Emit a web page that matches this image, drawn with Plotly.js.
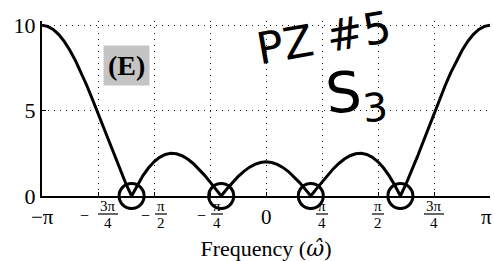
<!DOCTYPE html>
<html><head><meta charset="utf-8">
<script src="https://cdn.plot.ly/plotly-3.0.1.min.js"></script>
<style>html,body{margin:0;padding:0;background:#fff}#c{width:494px;height:261px}</style>
</head><body><div id="c"></div>
<script>
// frequency in units of pi
const freq = [-1,-0.975,-0.95,-0.925,-0.9,-0.875,-0.85,-0.825,-0.8,-0.775,-0.75,-0.725,-0.7,-0.675,-0.65,-0.625,-0.6,-0.575,-0.55,-0.525,-0.5,-0.475,-0.45,-0.425,-0.4,-0.375,-0.35,-0.325,-0.3,-0.275,-0.25,-0.225,-0.2,-0.175,-0.15,-0.125,-0.1,-0.075,-0.05,-0.025,0,0.025,0.05,0.075,0.1,0.125,0.15,0.175,0.2,0.225,0.25,0.275,0.3,0.325,0.35,0.375,0.4,0.425,0.45,0.475,0.5,0.525,0.55,0.575,0.6,0.625,0.65,0.675,0.7,0.725,0.75,0.775,0.8,0.825,0.85,0.875,0.9,0.925,0.95,0.975,1];
const magnitude = [10,9.938,9.755,9.453,9.040,8.524,7.915,7.227,6.472,5.667,4.828,3.972,3.115,2.274,1.465,0.702,0,0.630,1.178,1.637,2,2.265,2.430,2.498,2.472,2.359,2.167,1.906,1.587,1.224,0.828,0.416,0,0.405,0.787,1.133,1.432,1.675,1.853,1.963,2,1.963,1.853,1.675,1.432,1.133,0.787,0.405,0,0.416,0.828,1.224,1.587,1.906,2.167,2.359,2.472,2.498,2.430,2.265,2,1.637,1.178,0.630,0,0.702,1.465,2.274,3.115,3.972,4.828,5.667,6.472,7.227,7.915,8.524,9.040,9.453,9.755,9.938,10];
// circled zeros (units of pi)
const zeroFreq = [-0.6,-0.2,0.2,0.6];
const zeroMag = [0,0,0,0];
// x tick labels
const tickVals = [-1,-0.75,-0.5,-0.25,0,0.25,0.5,0.75,1];
const tickSign = ['−','−','−','−','','','','',''];
const tickNum = ['π','3π','π','π','0','π','π','3π','π'];
const tickDen = ['','4','2','4','','4','2','4',''];
const yTicks = [0,5,10];

const serif = 'Liberation Serif, Times New Roman, serif';
const black = '#000';
const annotations = [];
const shapes = [];
tickVals.forEach((v,i)=>{
  if(tickDen[i]===''){
    const edge = v===1 ? -4 : 0;
    annotations.push({x:v,y:0,xref:'x',yref:'y',text:tickSign[i]+tickNum[i],showarrow:false,
      xanchor:'center',yanchor:'middle',yshift:-21,xshift:edge,font:{family:serif,size:21,color:black}});
  } else {
    const wide = tickNum[i].length>1;
    const fs = tickSign[i] ? (wide?10:7) : 0;
    const barW = wide?20:12;
    annotations.push({x:v,y:0,xref:'x',yref:'y',text:tickNum[i],showarrow:false,borderpad:0,
      xanchor:'center',yanchor:'middle',yshift:-10,xshift:fs,font:{family:serif,size:15,color:black}});
    annotations.push({x:v,y:0,xref:'x',yref:'y',text:tickDen[i],showarrow:false,borderpad:0,
      xanchor:'center',yanchor:'middle',yshift:-27,xshift:fs,font:{family:serif,size:15,color:black}});
    shapes.push({type:'line',xref:'x',xsizemode:'pixel',xanchor:v,x0:fs-barW/2,x1:fs+barW/2,
      yref:'paper',ysizemode:'pixel',yanchor:0,y0:-18,y1:-18,line:{color:black,width:1.2}});
    if(tickSign[i]){
      annotations.push({x:v,y:0,xref:'x',yref:'y',text:tickSign[i],showarrow:false,borderpad:0,
        xanchor:'center',yanchor:'middle',yshift:-19,xshift:wide?-14:-9,font:{family:serif,size:16,color:black}});
    }
  }
});
annotations.push({x:-0.625,y:7.65,xref:'x',yref:'y',text:'<b>(E)</b>',showarrow:false,
  bgcolor:'#c4c4c4',borderpad:4,font:{family:serif,size:28,color:black}});
annotations.push({x:0.26,y:9.3,xref:'x',yref:'y',text:'PZ #5',showarrow:false,textangle:-10,
  font:{family:'DejaVu Sans',size:44,color:black}});
annotations.push({x:0.40,y:5.9,xref:'x',yref:'y',text:'S<sub>3</sub>',showarrow:false,textangle:-5,
  font:{family:'DejaVu Sans',size:56,color:black}});

const traces = [
  {x:freq,y:magnitude,type:'scatter',mode:'lines',line:{color:black,width:3},hoverinfo:'skip'},
  {x:zeroFreq,y:zeroMag,type:'scatter',mode:'markers',cliponaxis:false,
   marker:{symbol:'circle-open',size:25,color:black,line:{width:3,color:black}},hoverinfo:'skip'}
];
const layout = {
  width:494,height:261,margin:{l:42,r:4,t:21,b:65},
  paper_bgcolor:'#fff',plot_bgcolor:'#fff',showlegend:false,
  xaxis:{range:[-1,1],tickvals:tickVals,showticklabels:false,showgrid:true,gridcolor:'#222',
    griddash:'1px,5px',gridwidth:1,showline:true,linecolor:black,linewidth:2,zeroline:false,
    ticks:'inside',ticklen:4,tickcolor:black,
    title:{text:'Frequency (<span style="font-family:DejaVu Serif"><i>ω̂</i></span>)',font:{family:serif,size:22,color:black},standoff:46}},
  yaxis:{range:[0,10.25],tickvals:yTicks,ticktext:yTicks.map(String),showgrid:true,gridcolor:'#222',
    griddash:'1px,5px',gridwidth:1,showline:true,linecolor:black,linewidth:2,zeroline:false,
    ticks:'inside',ticklen:4,tickcolor:black,tickfont:{family:serif,size:22,color:black}},
  annotations:annotations,
  shapes:shapes
};
Plotly.newPlot('c',traces,layout,{displayModeBar:false,staticPlot:true});
</script></body></html>
